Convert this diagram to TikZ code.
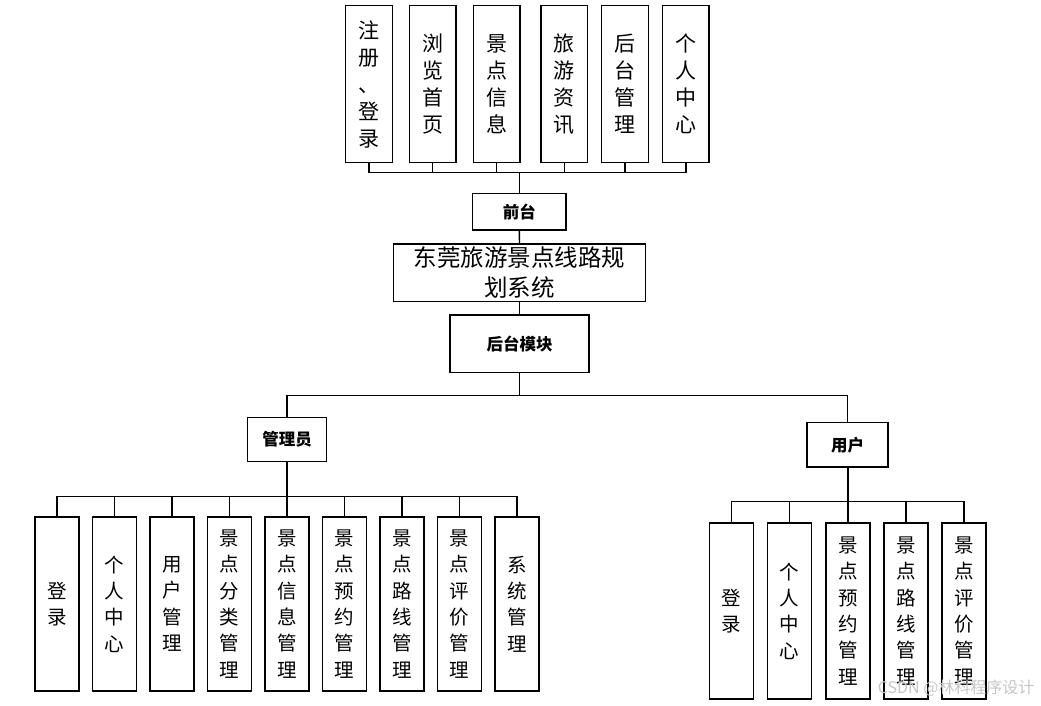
\documentclass[tikz,border=0pt]{standalone}
\usepackage{fontspec}
\newfontfamily\cjk{Noto Sans CJK SC}
\usepackage{tikz}

\tikzset{
    box/.style={draw, line width=1.5pt, inner sep=0pt, align=center, font=\cjk},
    topbox/.style={box, minimum width=46.7, minimum height=157, font=\cjk\fontsize{21}{27}\selectfont},
    leafbox/.style={box, minimum width=44, font=\cjk\fontsize{19.5}{26.3}\selectfont},
    labelbox/.style={box, font=\cjk\bfseries\fontsize{16.5}{20}\selectfont},
    link/.style={line width=1.4pt},
    trunk/.style={line width=2.2pt}
}

\begin{document}
\begin{tikzpicture}[x=1pt, y=-1pt]
    \useasboundingbox (0,0) rectangle (1041,705);

    % === Front end modules (top row) ===
    \foreach \i/\xx/\txt in {1/369/{注\\册\\、\\登\\录}, 2/432.7/{浏\\览\\首\\页},
        3/496.7/{景\\点\\信\\息}, 4/564.3/{旅\\游\\资\\讯},
        5/625/{后\\台\\管\\理}, 6/685.8/{个\\人\\中\\心}}
        \node[topbox] (front\i) at (\xx,84.2) {\txt};

    % === Front end / system / back end ===
    \node[labelbox, minimum width=93.3, minimum height=36.7] (front) at (519.3,211.7) {前台};
    \node[box, minimum width=252.4, minimum height=57.7,
        font=\cjk\fontsize{23.5}{30}\selectfont] (sys) at (519.5,272.8) {东莞旅游景点线路规\\划系统};
    \node[labelbox, minimum width=139, minimum height=57.7] (back) at (519.5,343.8) {后台模块};

    % connectors of the top row
    \foreach \i in {1,...,6}
        \draw[link] (front.north) -- ++(0,-20) -| (front\i.south);
    \draw[link] (front.south) -- (sys.north);
    \draw[link] (sys.south) -- (back.north);

    % === Roles ===
    \node[labelbox, minimum width=79.3, minimum height=44] (admin) at (287,439.7) {管理员};
    \node[labelbox, minimum width=81, minimum height=44.4] (user) at (847.7,444.8) {用户};
    \draw[link] (back.south) -- ++(0,22.3) -| (admin.north);
    \draw[link] (back.south) -- ++(0,22.3) -| (user.north);

    % === Administrator functions ===
    \foreach \i/\txt in {1/{登\\录}, 2/{个\\人\\中\\心}, 3/{用\\户\\管\\理},
        4/{景\\点\\分\\类\\管\\理}, 5/{景\\点\\信\\息\\管\\理}, 6/{景\\点\\预\\约\\管\\理},
        7/{景\\点\\路\\线\\管\\理}, 8/{景\\点\\评\\价\\管\\理}, 9/{系\\统\\管\\理}}
    {
        \node[leafbox, minimum height=174] (adm\i) at ({57+57.5*(\i-1)},604) {\txt};
        \draw[link] (admin.south) -- ++(0,34) -| (adm\i.north);
    }
    \draw[trunk] (admin.south) -- ++(0,34);

    % === User functions ===
    \foreach \i/\txt in {1/{登\\录}, 2/{个\\人\\中\\心}, 3/{景\\点\\预\\约\\管\\理},
        4/{景\\点\\路\\线\\管\\理}, 5/{景\\点\\评\\价\\管\\理}}
    {
        \node[leafbox, minimum height=176] (usr\i) at ({731.5+58.15*(\i-1)},611) {\txt};
        \draw[link] (user.south) -- ++(0,34) -| (usr\i.north);
    }
    \draw[trunk] (user.south) -- ++(0,34);

    % watermark
    \node[anchor=east, text=gray!45, font=\cjk\fontsize{16}{18}\selectfont] (mark) at (1038,688) {CSDN @林科程序设计};

\end{tikzpicture}
\end{document}
